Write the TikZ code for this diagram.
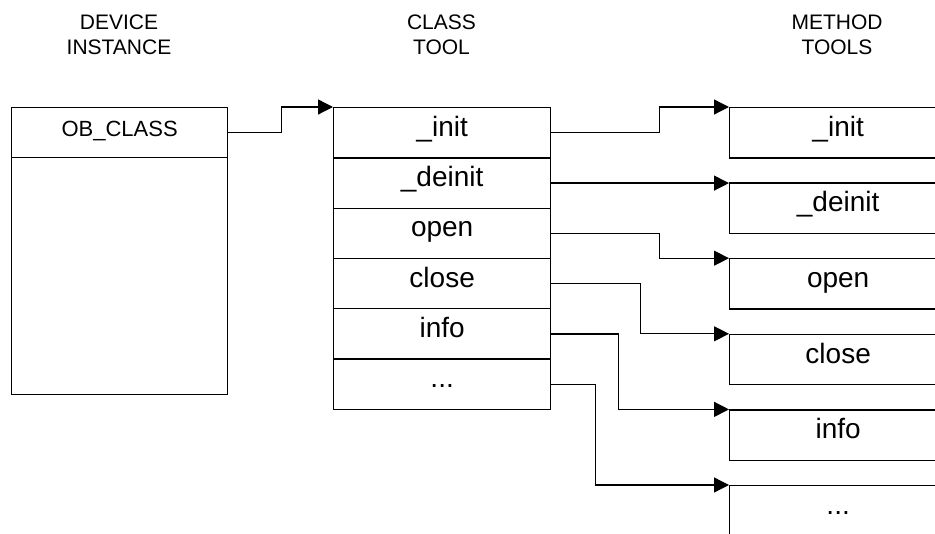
\documentclass[tikz,border=0pt]{standalone}
\usepackage{fontspec}
\setmainfont{Liberation Sans}
\usetikzlibrary{arrows.meta}
\begin{document}
\begin{tikzpicture}[x=1pt,y=-1pt,
  line width=1.3pt,
  header/.style={align=center,font=\fontsize{21}{24.5}\selectfont},
  rowbox/.style={draw,rectangle,minimum width=217pt,minimum height=50.3pt,
    inner sep=0pt,anchor=north west,text height=0.905em,text depth=0.212em,
    font=\fontsize{28}{32}\selectfont},
  obbox/.style={draw,rectangle,minimum width=216pt,minimum height=50pt,
    inner sep=0pt,anchor=north west,text height=0.905em,text depth=0.212em,
    font=\fontsize{22}{26}\selectfont},
  link/.style={-{Triangle[length=15pt,width=15pt]},line join=miter}
]
\clip (0,0) rectangle (935,534);

% column headings
\node[header] (hdev) at (119,35) {DEVICE\\INSTANCE};
\node[header] (hcls) at (441.5,35) {CLASS\\TOOL};
\node[header] (hmth) at (837,35) {METHOD\\TOOLS};

% device instance
\node[obbox] (ob) at (11,107) {OB\_CLASS};
\node[draw,rectangle,minimum width=216pt,minimum height=237pt,inner sep=0pt,
  anchor=north west] (obrest) at (11,157) {};

% class tool rows
\node[rowbox] (c1) at (333,107.0) {\_init};
\node[rowbox] (c2) at (333,157.3) {\_deinit};
\node[rowbox] (c3) at (333,207.6) {open};
\node[rowbox] (c4) at (333,257.9) {close};
\node[rowbox] (c5) at (333,308.2) {info};
\node[rowbox] (c6) at (333,358.5) {...};

% method tools
\node[rowbox] (m1) at (729,107.0) {\_init};
\node[rowbox] (m2) at (729,182.45) {\_deinit};
\node[rowbox] (m3) at (729,258.2) {open};
\node[rowbox] (m4) at (729,333.8) {close};
\node[rowbox] (m5) at (729,409.4) {info};
\node[rowbox] (m6) at (729,485.0) {...};

% connectors
\draw[link] (ob.east) -- ++(53,0) |- (c1.north west);
\draw[link] (c1.east) -- ++(108,0) |- (m1.north west);
\draw[link] (c2.east) -- (c2.east -| m2.west);
\draw[link] (c3.east) -- ++(108,0) |- (m3.north west);
\draw[link] (c4.east) -- ++(89,0) |- (m4.north west);
\draw[link] (c5.east) -- ++(67,0) |- (m5.north west);
\draw[link] (c6.east) -- ++(44,0) |- (m6.north west);
\end{tikzpicture}
\end{document}
